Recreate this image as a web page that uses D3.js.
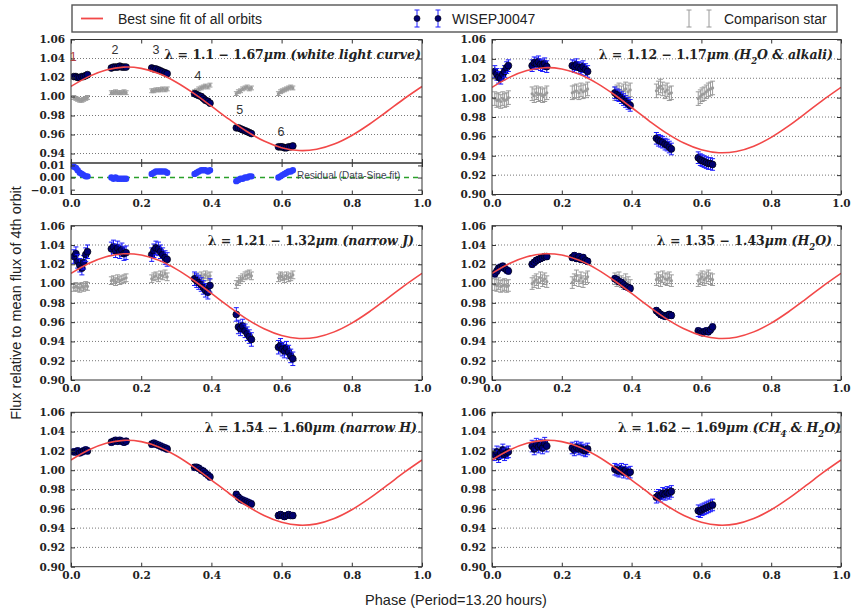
<!DOCTYPE html>
<html><head><meta charset="utf-8">
<script src="https://cdn.jsdelivr.net/npm/d3@7"></script>
<style>
body{margin:0;background:#fff;}
svg{display:block;}
</style></head><body>
<svg id="chart" width="852" height="611"></svg>
<script>
// ---------------- data ----------------
const xTicks = [0, 0.2, 0.4, 0.6, 0.8, 1.0];
const fluxTicks = [0.90, 0.92, 0.94, 0.96, 0.98, 1.00, 1.02, 1.04, 1.06];
const wlcFluxTicks = [0.94, 0.96, 0.98, 1.00, 1.02, 1.04, 1.06];
const residualTicks = [-0.01, 0.00, 0.01];

// rotational phase of each exposure, grouped by HST orbit
const orbitPhases = [
  [0.008,0.014,0.019,0.025,0.031,0.036,0.042,0.047],
  [0.115,0.121,0.127,0.133,0.139,0.145,0.151,0.157],
  [0.230,0.236,0.242,0.249,0.255,0.261,0.268,0.274],
  [0.352,0.358,0.364,0.371,0.377,0.383,0.390,0.396],
  [0.471,0.477,0.483,0.489,0.496,0.502,0.508,0.514],
  [0.591,0.597,0.602,0.608,0.614,0.620,0.626,0.632]
];

// best sine fit of all orbits, sampled in phase
const sinePhase = [0,0.05,0.10,0.15,0.20,0.25,0.30,0.35,0.40,0.45,0.50,0.55,0.60,0.65,0.70,0.75,0.80,0.85,0.90,0.95,1.00];
const sineFlux  = [1.0106,1.0209,1.0279,1.0309,1.0296,1.0241,1.0150,1.0032,0.9898,0.9761,0.9634,0.9531,0.9461,0.9431,0.9444,0.9499,0.9590,0.9708,0.9842,0.9979,1.0106];

// white light curve (1.1-1.67 um)
const wlcFlux = [
  [1.021,1.021,1.020,1.020,1.021,1.021,1.022,1.023],
  [1.030,1.031,1.031,1.031,1.032,1.031,1.031,1.031],
  [1.030,1.029,1.029,1.028,1.027,1.026,1.025,1.024],
  [1.003,1.002,1.001,1.000,0.998,0.996,0.995,0.993],
  [0.967,0.967,0.966,0.965,0.964,0.963,0.962,0.961],
  [0.947,0.947,0.947,0.946,0.946,0.947,0.947,0.948]
];
const wlcComp = [
  [0.999,0.998,0.997,0.996,0.996,0.997,0.998,0.999],
  [1.004,1.004,1.005,1.004,1.004,1.004,1.005,1.004],
  [1.006,1.006,1.007,1.007,1.007,1.008,1.007,1.008],
  [1.005,1.006,1.008,1.009,1.010,1.011,1.010,1.012],
  [1.003,1.005,1.006,1.008,1.009,1.010,1.008,1.009],
  [1.003,1.005,1.006,1.007,1.008,1.009,1.010,1.009]
];
const wlcResidual = [
  [0.009,0.008,0.006,0.004,0.003,0.002,0.001,0.001],
  [0.000,-0.001,0.000,-0.001,-0.001,-0.001,-0.001,-0.001],
  [0.003,0.004,0.005,0.005,0.005,0.005,0.005,0.004],
  [0.003,0.004,0.005,0.006,0.006,0.006,0.005,0.006],
  [-0.003,-0.002,-0.001,-0.001,0.000,0.000,0.001,0.001],
  [0.000,0.001,0.002,0.003,0.004,0.005,0.005,0.006]
];
const orbitLabels = ["1","2","3","4","5","6"];
const orbitLabelPhase = [0.006,0.125,0.242,0.362,0.481,0.598];
const orbitLabelFlux  = [1.042,1.050,1.050,1.022,0.986,0.963];

// H2O & alkali band (1.12-1.17 um)
const alkaliFlux = [
  [1.027,1.024,1.021,1.020,1.024,1.027,1.031,1.033],
  [1.033,1.036,1.035,1.037,1.034,1.033,1.035,1.032],
  [1.033,1.032,1.034,1.031,1.030,1.032,1.029,1.027],
  [1.005,1.003,1.002,1.000,0.998,0.996,0.994,0.992],
  [0.958,0.956,0.955,0.954,0.952,0.951,0.949,0.947],
  [0.938,0.936,0.935,0.934,0.933,0.932,0.932,0.931]
];
const alkaliComp = [
  [0.999,0.997,0.998,0.996,0.999,0.997,0.998,1.000],
  [1.004,1.002,1.005,1.003,1.004,1.002,1.003,1.005],
  [1.005,1.006,1.007,1.005,1.008,1.006,1.007,1.009],
  [1.004,1.006,1.008,1.005,1.007,1.009,1.006,1.008],
  [1.007,1.010,1.012,1.009,1.006,1.008,1.004,1.005],
  [0.999,1.001,1.003,1.004,1.006,1.008,1.009,1.010]
];

// narrow J band (1.21-1.32 um)
const narrowJFlux = [
  [1.028,1.031,1.023,1.019,1.016,1.022,1.030,1.033],
  [1.036,1.038,1.034,1.037,1.033,1.035,1.031,1.032],
  [1.030,1.034,1.037,1.036,1.033,1.030,1.027,1.025],
  [1.005,1.003,1.001,0.999,0.996,0.993,0.991,0.998],
  [0.968,0.955,0.953,0.956,0.951,0.948,0.945,0.942],
  [0.934,0.936,0.932,0.930,0.933,0.929,0.925,0.922]
];
const narrowJComp = [
  [0.996,0.997,0.996,0.995,0.997,0.996,0.998,0.997],
  [1.003,1.004,1.002,1.005,1.003,1.004,1.005,1.006],
  [1.005,1.007,1.008,1.006,1.009,1.008,1.010,1.007],
  [1.006,1.007,1.005,1.008,1.006,1.009,1.007,1.008],
  [0.999,1.002,1.004,1.006,1.008,1.009,1.010,1.008],
  [1.006,1.008,1.007,1.005,1.008,1.006,1.007,1.009]
];

// H2O band (1.35-1.43 um)
const waterFlux = [
  [1.010,1.013,1.016,1.017,1.018,1.016,1.014,1.013],
  [1.020,1.022,1.024,1.025,1.026,1.027,1.028,1.028],
  [1.027,1.029,1.026,1.028,1.025,1.027,1.024,1.023],
  [1.005,1.004,1.002,1.001,0.999,0.997,0.996,0.995],
  [0.972,0.970,0.968,0.967,0.966,0.967,0.968,0.967],
  [0.951,0.950,0.949,0.950,0.951,0.950,0.952,0.955]
];
const waterComp = [
  [0.999,0.998,1.000,0.997,0.998,0.999,0.997,0.998],
  [1.000,1.002,1.004,1.001,1.006,1.003,1.005,1.002],
  [1.001,1.004,1.008,1.003,1.006,1.002,1.005,1.007],
  [1.005,1.003,1.006,1.002,1.000,1.004,1.001,0.998],
  [1.004,1.006,1.003,1.007,1.005,1.004,1.006,1.003],
  [1.003,1.005,1.007,1.004,1.006,1.008,1.005,1.004]
];

// narrow H band (1.54-1.60 um)
const narrowHFlux = [
  [1.019,1.019,1.020,1.018,1.019,1.020,1.021,1.020],
  [1.029,1.030,1.031,1.030,1.031,1.030,1.029,1.030],
  [1.027,1.028,1.027,1.026,1.025,1.024,1.023,1.022],
  [1.003,1.003,1.002,1.000,0.999,0.997,0.995,0.993],
  [0.975,0.972,0.970,0.969,0.968,0.967,0.966,0.965],
  [0.953,0.954,0.953,0.952,0.953,0.954,0.953,0.953]
];

// CH4 & H2O band (1.62-1.69 um)
const methaneFlux = [
  [1.016,1.019,1.014,1.018,1.021,1.016,1.018,1.019],
  [1.025,1.022,1.027,1.024,1.026,1.023,1.028,1.025],
  [1.023,1.021,1.024,1.022,1.023,1.021,1.020,1.022],
  [1.001,1.000,0.999,1.001,0.998,1.000,0.997,0.998],
  [0.972,0.974,0.973,0.976,0.975,0.977,0.976,0.978],
  [0.958,0.957,0.959,0.960,0.961,0.962,0.963,0.964]
];

// 1-sigma uncertainties per panel
const targetErr = [0.0015, 0.006, 0.007, 0.003, 0.003, 0.006];
const compErr   = [0.002, 0.007, 0.004, 0.006, 0, 0];

// panel captions: wavelength range + note (pieces flagged 1 are subscripts)
const bandRanges = ["1.1 \u2212 1.67", "1.12 \u2212 1.17", "1.21 \u2212 1.32", "1.35 \u2212 1.43", "1.54 \u2212 1.60", "1.62 \u2212 1.69"];
const bandNotes = [
  [["white light curve"]],
  [["H"],["2",1],["O & alkali"]],
  [["narrow J"]],
  [["H"],["2",1],["O"]],
  [["narrow H"]],
  [["CH"],["4",1],[" & H"],["2",1],["O"]]
];

// ---------------- layout ----------------
const svg = d3.select("#chart");
const LEFT = [71, 422], RIGHT = [492, 841];
const ROWS = [[39.5, 194.5], [225.7, 380], [412.3, 566.7]];

const panels = [
  {col: LEFT,  row: 0, flux: wlcFlux,     comp: wlcComp,     titleEnd: 421},
  {col: RIGHT, row: 0, flux: alkaliFlux,  comp: alkaliComp,  titleEnd: 833},
  {col: LEFT,  row: 1, flux: narrowJFlux, comp: narrowJComp, titleEnd: 414},
  {col: RIGHT, row: 1, flux: waterFlux,   comp: waterComp,   titleEnd: 832},
  {col: LEFT,  row: 2, flux: narrowHFlux, comp: null,        titleEnd: 417},
  {col: RIGHT, row: 2, flux: methaneFlux, comp: null,        titleEnd: 841}
];

const TICK_FONT = "'DejaVu Serif', serif";
const SANS = "'Liberation Sans', Arial, sans-serif";
const defs = svg.append("defs");

function pts(series) {
  const out = [];
  series.forEach((orbit, k) => orbit.forEach((v, j) => out.push({p: orbitPhases[k][j], v})));
  return out;
}

function drawAxes(g, x, y, yTickVals, fmt, showX) {
  const y0 = y.range()[1], y1 = y.range()[0];
  const x0 = x.range()[0], x1 = x.range()[1];
  const left = g.append("g").attr("transform", `translate(${x0},0)`)
    .call(d3.axisLeft(y).tickValues(yTickVals).tickFormat(fmt).tickSizeInner(-4).tickSizeOuter(0).tickPadding(6));
  const right = g.append("g").attr("transform", `translate(${x1},0)`)
    .call(d3.axisRight(y).tickValues(yTickVals).tickFormat("").tickSizeInner(-4).tickSizeOuter(0));
  const top = g.append("g").attr("transform", `translate(0,${y0})`)
    .call(d3.axisTop(x).tickValues(xTicks).tickFormat("").tickSizeInner(-4).tickSizeOuter(0));
  const bottom = g.append("g").attr("transform", `translate(0,${y1})`)
    .call(d3.axisBottom(x).tickValues(xTicks).tickFormat(showX ? d3.format(".1f") : "").tickSizeInner(-4).tickSizeOuter(0).tickPadding(5));
  [left, right, top, bottom].forEach(a => {
    a.select(".domain").remove();
    a.selectAll(".tick line").attr("stroke", "#333").attr("stroke-width", 1);
    a.selectAll("text").attr("font-family", TICK_FONT).attr("font-size", 10.5).attr("fill", "#222").attr("font-weight", "bold");
  });
  g.append("rect").attr("x", x0).attr("y", y0).attr("width", x1 - x0).attr("height", y1 - y0)
    .attr("fill", "none").attr("stroke", "#333").attr("stroke-width", 1);
}

function drawErrorPoints(g, x, y, data, err, opt) {
  const cap = opt.cap;
  const sel = g.append("g").selectAll("g").data(data).join("g");
  if (err > 0) {
    sel.append("line").attr("x1", d => x(d.p)).attr("x2", d => x(d.p))
      .attr("y1", d => y(d.v - err)).attr("y2", d => y(d.v + err))
      .attr("stroke", opt.bar).attr("stroke-width", 1);
    [1, -1].forEach(s => sel.append("line")
      .attr("x1", d => x(d.p) - cap).attr("x2", d => x(d.p) + cap)
      .attr("y1", d => y(d.v + s * err)).attr("y2", d => y(d.v + s * err))
      .attr("stroke", opt.bar).attr("stroke-width", 1));
  }
  sel.append("circle").attr("cx", d => x(d.p)).attr("cy", d => y(d.v)).attr("r", opt.r)
    .attr("fill", opt.fill).attr("stroke", opt.stroke || "none").attr("stroke-width", opt.sw || 0);
}

panels.forEach((pn, i) => {
  const g = svg.append("g");
  const [x0, x1] = pn.col;
  let [y0, y1] = ROWS[pn.row];
  const isWlc = i === 0;
  const mainBottom = isWlc ? 163 : y1;
  const x = d3.scaleLinear().domain([0, 1]).range([x0, x1]);
  const y = d3.scaleLinear().domain(isWlc ? [0.93, 1.06] : [0.90, 1.06]).range([mainBottom, y0]);
  const ticks = isWlc ? wlcFluxTicks : fluxTicks;

  const clipId = "clip" + i;
  defs.append("clipPath").attr("id", clipId).append("rect")
    .attr("x", x0).attr("y", y0).attr("width", x1 - x0).attr("height", mainBottom - y0);

  // dotted horizontal grid
  g.append("g").selectAll("line").data(ticks.filter(t => t > y.domain()[0] + 1e-6 && t < y.domain()[1] - 1e-6))
    .join("line").attr("x1", x0).attr("x2", x1).attr("y1", d => y(d)).attr("y2", d => y(d))
    .attr("stroke", "#777").attr("stroke-width", 1).attr("stroke-dasharray", "1,2");

  const plot = g.append("g").attr("clip-path", `url(#${clipId})`);

  if (pn.comp) {
    drawErrorPoints(plot, x, y, pts(pn.comp), compErr[i],
      {bar: "#9a9a9a", fill: "#9a9a9a", r: 1.6, cap: 2.5});
  }
  drawErrorPoints(plot, x, y, pts(pn.flux), targetErr[i],
    {bar: "#1a1aff", fill: "#000070", stroke: "#000", sw: 0.7, r: 3.4, cap: 2.5});

  const sineData = sinePhase.map((p, k) => ({p, v: sineFlux[k]}));
  plot.append("path").datum(sineData)
    .attr("d", d3.line().x(d => x(d.p)).y(d => y(d.v)).curve(d3.curveCatmullRom))
    .attr("fill", "none").attr("stroke", "#f24848").attr("stroke-width", 1.6);

  drawAxes(g, x, y, ticks, d3.format(".2f"), !isWlc);

  // caption
  const t = g.append("text").attr("x", pn.titleEnd).attr("y", y0 + 19.5)
    .attr("text-anchor", "end").attr("font-family", TICK_FONT).attr("font-size", 12.5)
    .attr("fill", "#222").attr("font-weight", "bold");
  t.append("tspan").text("\u03bb = " + bandRanges[i]);
  t.append("tspan").attr("font-style", "italic").text("\u03bcm (");
  bandNotes[i].forEach(piece => {
    const s = t.append("tspan").attr("font-style", "italic").text(piece[0]);
    if (piece[1]) s.attr("font-size", 8.5).attr("baseline-shift", "sub");
  });
  t.append("tspan").attr("font-style", "italic").text(")");

  if (isWlc) {
    // orbit numbers
    g.append("g").selectAll("text").data(orbitLabels).join("text")
      .attr("x", (d, k) => x(orbitLabelPhase[k])).attr("y", (d, k) => y(orbitLabelFlux[k]) + 4.5)
      .attr("text-anchor", "middle").attr("font-family", SANS).attr("font-size", 12.5)
      .attr("fill", (d, k) => k === 0 ? "#b04040" : "#333").text(d => d);

    // residual sub-panel
    const yr = d3.scaleLinear().domain([-0.014, 0.012]).range([y1, mainBottom]);
    const rg = svg.append("g");
    rg.append("line").attr("x1", x0).attr("x2", x1).attr("y1", yr(0)).attr("y2", yr(0))
      .attr("stroke", "#2aa02a").attr("stroke-width", 1.6).attr("stroke-dasharray", "5,4");
    rg.append("g").selectAll("circle").data(pts(wlcResidual)).join("circle")
      .attr("cx", d => x(d.p)).attr("cy", d => yr(d.v)).attr("r", 3.2).attr("fill", "#2a3cff");
    rg.append("text").attr("x", 297).attr("y", yr(0) + 1)
      .attr("font-family", SANS).attr("font-size", 10).attr("fill", "#445").text("Residual (Data-Sine fit)");
    drawAxes(rg, x, yr, residualTicks, d3.format(".2f"), true);
  }
});

// ---------------- legend ----------------
const lg = svg.append("g");
lg.append("rect").attr("x", 72).attr("y", 5).attr("width", 765).attr("height", 27)
  .attr("fill", "#fff").attr("stroke", "#555").attr("stroke-width", 1.4);
const ly = 18.5;
lg.append("line").attr("x1", 81).attr("x2", 103).attr("y1", ly).attr("y2", ly)
  .attr("stroke", "#f24848").attr("stroke-width", 1.8);
lg.append("text").attr("x", 118).attr("y", ly + 5).attr("font-family", SANS).attr("font-size", 14)
  .attr("fill", "#222").text("Best sine fit of all orbits");
[417, 438].forEach(cx => {
  lg.append("line").attr("x1", cx).attr("x2", cx).attr("y1", ly - 8.5).attr("y2", ly + 8.5).attr("stroke", "#1a1aff");
  [-8.5, 8.5].forEach(o => lg.append("line").attr("x1", cx - 2.5).attr("x2", cx + 2.5)
    .attr("y1", ly + o).attr("y2", ly + o).attr("stroke", "#1a1aff"));
  lg.append("circle").attr("cx", cx).attr("cy", ly).attr("r", 3).attr("fill", "#000070").attr("stroke", "#000").attr("stroke-width", 0.6);
});
lg.append("text").attr("x", 452).attr("y", ly + 5).attr("font-family", SANS).attr("font-size", 14)
  .attr("fill", "#222").text("WISEPJ0047");
[689, 709].forEach(cx => {
  lg.append("line").attr("x1", cx).attr("x2", cx).attr("y1", ly - 8.5).attr("y2", ly + 8.5).attr("stroke", "#9a9a9a");
  [-8.5, 8.5].forEach(o => lg.append("line").attr("x1", cx - 2.5).attr("x2", cx + 2.5)
    .attr("y1", ly + o).attr("y2", ly + o).attr("stroke", "#9a9a9a"));
});
lg.append("text").attr("x", 724).attr("y", ly + 5).attr("font-family", SANS).attr("font-size", 14)
  .attr("fill", "#222").text("Comparison star");

// ---------------- axis titles ----------------
svg.append("text").attr("transform", "translate(21,303) rotate(-90)").attr("text-anchor", "middle")
  .attr("font-family", SANS).attr("font-size", 14.5).attr("fill", "#222")
  .text("Flux relative to mean flux of 4th orbit");
svg.append("text").attr("x", 456).attr("y", 605).attr("text-anchor", "middle")
  .attr("font-family", SANS).attr("font-size", 14.5).attr("fill", "#222")
  .text("Phase (Period=13.20 hours)");
</script>
</body></html>
